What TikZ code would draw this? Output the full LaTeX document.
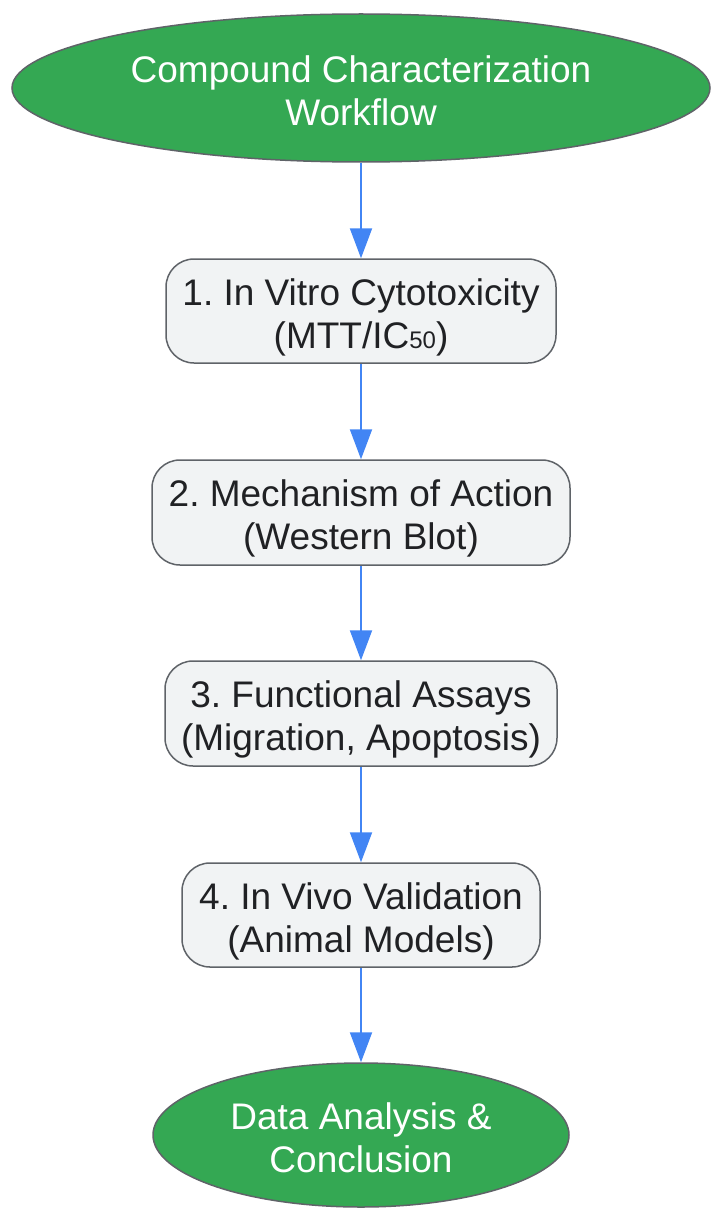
\documentclass[tikz,border=0pt]{standalone}
\usepackage{fontspec}
\setmainfont{Liberation Sans}
\frenchspacing
\usetikzlibrary{shapes.geometric,arrows.meta}
\definecolor{gfill}{HTML}{34A853}
\definecolor{bfill}{HTML}{F1F3F4}
\definecolor{bdraw}{HTML}{5F6368}
\definecolor{txt}{HTML}{202124}
\definecolor{arr}{HTML}{4285F4}
\newcommand{\lbltext}[1]{\raisebox{0pt}[\dimexpr\height+14pt\relax][\depth]{\begin{tabular}{@{}c@{}}#1\end{tabular}}}
\tikzset{
  term/.style={ellipse, draw=bdraw, line width=1.5pt, fill=gfill, text=white, align=center, font=\fontsize{37}{43}\selectfont, inner sep=0pt},
  stepbox/.style={rectangle, rounded corners=28pt, draw=bdraw, line width=1.5pt, fill=bfill, text=txt, align=center, font=\fontsize{37}{43}\selectfont, inner sep=0pt},
  conn/.style={draw=arr, line width=2pt, -{Triangle[length=30pt,width=22pt]}}
}
\begin{document}
\begin{tikzpicture}[x=1pt,y=-1pt]
\useasboundingbox (0,0) rectangle (710,1209);
\node[term, minimum width=698pt, minimum height=148pt] (start) at (361,88) {\lbltext{Compound Characterization\\Workflow}};
\node[stepbox, minimum width=390pt, minimum height=104pt] (s1) at (361,311) {\lbltext{1. In Vitro Cytotoxicity\\(MTT/IC{\fontsize{24}{24}\selectfont 50})}};
\node[stepbox, minimum width=418pt, minimum height=105pt] (s2) at (361,512.5) {\lbltext{2. Mechanism of Action\\(Western Blot)}};
\node[stepbox, minimum width=392pt, minimum height=105pt] (s3) at (361,713.5) {\lbltext{3. Functional Assays\\(Migration, Apoptosis)}};
\node[stepbox, minimum width=358pt, minimum height=104pt] (s4) at (361,915) {\lbltext{4. In Vivo Validation\\(Animal Models)}};
\node[term, minimum width=416pt, minimum height=144pt] (end) at (361,1135) {\lbltext{Data Analysis \&\\Conclusion}};
\draw[conn] (start) -- (s1);
\draw[conn] (s1) -- (s2);
\draw[conn] (s2) -- (s3);
\draw[conn] (s3) -- (s4);
\draw[conn] (s4) -- (end);
\end{tikzpicture}
\end{document}
